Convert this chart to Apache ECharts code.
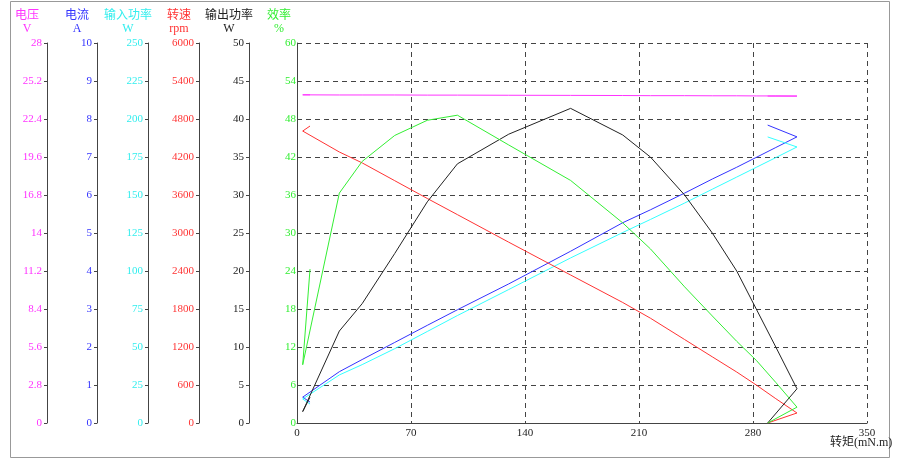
<!DOCTYPE html>
<html>
<head>
<meta charset="utf-8">
<script src="https://cdn.jsdelivr.net/npm/echarts@6/dist/echarts.min.js"></script>
<style>
html,body{margin:0;padding:0;background:#fff;}
#chart{width:900px;height:461px;}
</style>
</head>
<body>
<div id="chart"></div>
<script>
// Torque (mN.m) for each measured point, in recorded order
const torque = [8, 3.5, 26, 40, 60, 80, 98.5, 130, 168, 200, 217, 238, 255, 270, 282, 294, 307, 289];
const voltage = [24.18, 24.18, 24.17, 24.17, 24.17, 24.16, 24.16, 24.15, 24.14, 24.13, 24.12, 24.12, 24.11, 24.11, 24.10, 24.10, 24.09, 24.09];
const current = [0.55, 0.68, 1.35, 1.67, 2.12, 2.57, 2.98, 3.66, 4.52, 5.27, 5.61, 6.05, 6.42, 6.73, 6.99, 7.25, 7.53, 7.84];
const inputPower = [12.5, 15.8, 31.6, 38.4, 48.9, 60.2, 70.7, 87.8, 108.6, 125.3, 133.9, 144.7, 153.8, 161.8, 168.2, 174.6, 181.6, 188.2];
const speed = [4689, 4610, 4279, 4107, 3826, 3545, 3290, 2855, 2337, 1903, 1655, 1318, 1045, 805, 600, 384, 158, 0];
const outputPower = [3.4, 1.5, 12.1, 15.7, 22.3, 29.1, 34.1, 38.0, 41.4, 37.9, 35.0, 30.0, 25.0, 20.0, 15.0, 10.0, 4.5, 0];
const efficiency = [24.3, 9.2, 36.3, 41.3, 45.4, 47.8, 48.6, 43.9, 38.3, 31.6, 27.5, 21.5, 16.9, 12.9, 9.9, 6.4, 2.5, 0];

const axisDefs = [
  {key:'eff', name:'效率\n%', color:'#33ee33', min:0, max:60, interval:6, offset:0},
  {key:'pout', name:'输出功率\nW', color:'#222222', min:0, max:50, interval:5, offset:48},
  {key:'speed', name:'转速\nrpm', color:'#ff3333', min:0, max:6000, interval:600, offset:98},
  {key:'pin', name:'输入功率\nW', color:'#33eeee', min:0, max:250, interval:25, offset:149},
  {key:'cur', name:'电流\nA', color:'#3333ff', min:0, max:10, interval:1, offset:200},
  {key:'volt', name:'电压\nV', color:'#ff33ff', min:0, max:28, interval:2.8, offset:250}
];
const seriesDefs = [
  {name:'电压', values:voltage, axis:5, color:'#ff33ff'},
  {name:'电流', values:current, axis:4, color:'#3333ff'},
  {name:'输入功率', values:inputPower, axis:3, color:'#33ffff'},
  {name:'转速', values:speed, axis:2, color:'#ff3333'},
  {name:'输出功率', values:outputPower, axis:1, color:'#222222'},
  {name:'效率', values:efficiency, axis:0, color:'#33ee33'}
];

const numFont = "'Liberation Serif', 'Times New Roman', serif";
const cjkFont = "'Liberation Serif', 'Noto Sans CJK SC', serif";

const chart = echarts.init(document.getElementById('chart'), null, {renderer:'canvas'});

const yAxis = axisDefs.map((a, i) => ({
  type:'value', position:'left', offset:a.offset,
  min:a.min, max:a.max, interval:a.interval,
  name:a.name, nameLocation:'end', nameGap:8,
  nameTextStyle:{color:a.color, fontSize:12, lineHeight:13, fontFamily:cjkFont, align:'center', padding:[0, i === 0 ? 36 : 40, 0, 0]},
  axisLine:{show:true, lineStyle:{color:'#444', width:1}},
  axisTick:{show: i !== 0, length:3, lineStyle:{color:'#444'}},
  axisLabel:{color:a.color, fontSize:11, fontFamily:numFont, margin: i === 0 ? 1 : 5,
    formatter: v => String(+v.toFixed(1))},
  splitLine:{show: i === 0, lineStyle:{color:'#444', type:[5,4], width:1}}
}));

chart.setOption({
  animation:false,
  backgroundColor:'#fff',
  grid:{left:297, right:33, top:43, bottom:38, containLabel:false},
  xAxis:{
    type:'value', min:0, max:350, interval:70,
    axisLine:{show:true, lineStyle:{color:'#444', width:1}},
    axisTick:{show:false},
    axisLabel:{color:'#222', fontSize:11, fontFamily:numFont, margin:5},
    splitLine:{show:true, lineStyle:{color:'#444', type:[5,4], width:1}}
  },
  yAxis: yAxis,
  series: seriesDefs.map(s => ({
    name:s.name, type:'line', yAxisIndex:s.axis,
    data: torque.map((t, i) => [t, s.values[i]]),
    showSymbol:false, symbol:'none',
    lineStyle:{color:s.color, width:1},
    itemStyle:{color:s.color}
  })),
  graphic:[
    {type:'rect', shape:{x:10.5, y:1.5, width:879, height:456}, style:{fill:'none', stroke:'#999', lineWidth:1}, silent:true},
    {type:'text', left:830, top:437, style:{text:'转矩(mN.m)', fill:'#222', font:"12px 'Liberation Serif', 'Noto Sans CJK SC', serif"}}
  ]
});
</script>
</body>
</html>
